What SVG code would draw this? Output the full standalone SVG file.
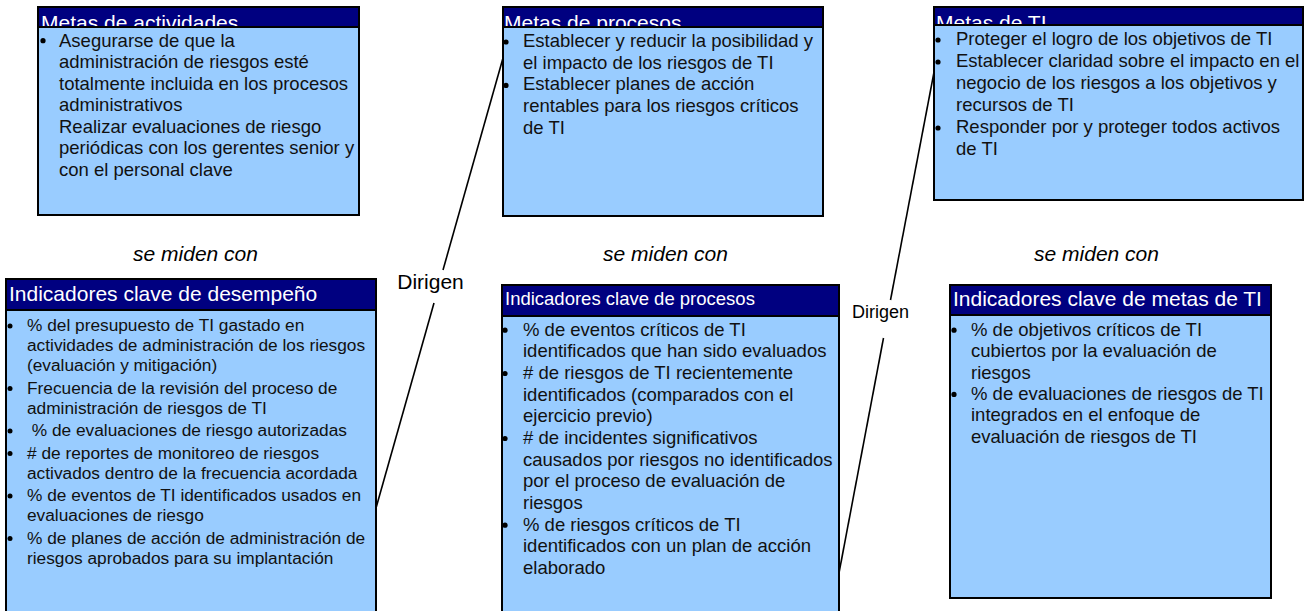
<svg xmlns="http://www.w3.org/2000/svg" width="1311" height="611" viewBox="0 0 1311 611">
<style>
.body{fill:#99CCFF;stroke:#000;stroke-width:2}
.head{fill:#000080;stroke:#000;stroke-width:2}
.ht{font-family:"Liberation Sans",Arial,sans-serif;fill:#fff;font-size:21px}
.t{font-family:"Liberation Sans",Arial,sans-serif;fill:#111;font-size:18.5px}
.t4{font-family:"Liberation Sans",Arial,sans-serif;fill:#111;font-size:17.3px}
.lbl{font-family:"Liberation Sans",Arial,sans-serif;fill:#000;font-size:21px;font-style:italic;text-anchor:middle}
.dl{font-family:"Liberation Sans",Arial,sans-serif;fill:#000;text-anchor:middle}
.b{fill:#000}
.c{stroke:#000;stroke-width:1.6;fill:none}
</style>
<defs>
<clipPath id="c1"><rect x="38" y="7" width="321" height="20"/></clipPath>
<clipPath id="c2"><rect x="503" y="7" width="320" height="20"/></clipPath>
<clipPath id="c3"><rect x="934" y="7" width="369" height="18"/></clipPath>
</defs>
<rect width="1311" height="611" fill="#fff"/>

<g id="connectors">
<line class="c" x1="503" y1="58" x2="443" y2="270"/>
<line class="c" x1="434" y1="303" x2="376" y2="508"/>
<line class="c" x1="935" y1="67" x2="890.5" y2="300"/>
<line class="c" x1="883.5" y1="338" x2="839" y2="573"/>
<text class="dl" x="430.5" y="289" font-size="21">Dirigen</text>
<text class="dl" x="880.5" y="318" font-size="18">Dirigen</text>
</g>

<g id="metas-actividades">
<rect class="head" x="38" y="7" width="321" height="20"/>
<text class="ht" x="41" y="29.5" clip-path="url(#c1)">Metas de actividades</text>
<rect class="body" x="38" y="27" width="321" height="188"/>
<circle class="b" cx="43" cy="40.7" r="2.6"/>
<text class="t" x="59" y="46.5">Asegurarse de que la</text>
<text class="t" x="59" y="68">administración de riesgos esté</text>
<text class="t" x="59" y="89.5">totalmente incluida en los procesos</text>
<text class="t" x="59" y="111">administrativos</text>
<text class="t" x="59" y="132.5">Realizar evaluaciones de riesgo</text>
<text class="t" x="59" y="154">periódicas con los gerentes senior y</text>
<text class="t" x="59" y="175.5">con el personal clave</text>
</g>

<g id="metas-procesos">
<rect class="head" x="503" y="7" width="320" height="20"/>
<text class="ht" x="504" y="29.5" clip-path="url(#c2)">Metas de procesos</text>
<rect class="body" x="503" y="27" width="320" height="189"/>
<circle class="b" cx="506" cy="42" r="2.6"/>
<text class="t" x="523" y="47">Establecer y reducir la posibilidad y</text>
<text class="t" x="523" y="68.7">el impacto de los riesgos de TI</text>
<circle class="b" cx="506" cy="85.4" r="2.6"/>
<text class="t" x="523" y="90.4">Establecer planes de acción</text>
<text class="t" x="523" y="112.1">rentables para los riesgos críticos</text>
<text class="t" x="523" y="133.8">de TI</text>
</g>

<g id="metas-ti">
<rect class="head" x="934" y="7" width="369" height="18"/>
<text class="ht" x="936" y="30" clip-path="url(#c3)">Metas de TI</text>
<rect class="body" x="934" y="25" width="369" height="175"/>
<circle class="b" cx="938" cy="40" r="2.6"/>
<text class="t" x="956" y="45">Proteger el logro de los objetivos de TI</text>
<circle class="b" cx="938" cy="62" r="2.6"/>
<text class="t" x="956" y="67">Establecer claridad sobre el impacto en el</text>
<text class="t" x="956" y="89">negocio de los riesgos a los objetivos y</text>
<text class="t" x="956" y="111">recursos de TI</text>
<circle class="b" cx="938" cy="128" r="2.6"/>
<text class="t" x="956" y="133">Responder por y proteger todos activos</text>
<text class="t" x="956" y="155">de TI</text>
</g>

<text class="lbl" x="195.5" y="261">se miden con</text>
<text class="lbl" x="665.5" y="261">se miden con</text>
<text class="lbl" x="1096.5" y="261">se miden con</text>

<g id="kpi-desempeno">
<rect class="body" x="6" y="310" width="370" height="310"/>
<rect class="head" x="6" y="279" width="370" height="31"/>
<text class="ht" x="9" y="301">Indicadores clave de desempeño</text>
<circle class="b" cx="10" cy="326" r="2.5"/>
<text class="t4" x="27" y="331">% del presupuesto de TI gastado en</text>
<text class="t4" x="27" y="351">actividades de administración de los riesgos</text>
<text class="t4" x="27" y="371">(evaluación y mitigación)</text>
<circle class="b" cx="10" cy="388.5" r="2.5"/>
<text class="t4" x="27" y="393.5">Frecuencia de la revisión del proceso de</text>
<text class="t4" x="27" y="413.5">administración de riesgos de TI</text>
<circle class="b" cx="10" cy="431" r="2.5"/>
<text class="t4" x="27" y="436" xml:space="preserve"> % de evaluaciones de riesgo autorizadas</text>
<circle class="b" cx="10" cy="453.5" r="2.5"/>
<text class="t4" x="27" y="458.5"># de reportes de monitoreo de riesgos</text>
<text class="t4" x="27" y="478.5">activados dentro de la frecuencia acordada</text>
<circle class="b" cx="10" cy="496" r="2.5"/>
<text class="t4" x="27" y="501">% de eventos de TI identificados usados en</text>
<text class="t4" x="27" y="521">evaluaciones de riesgo</text>
<circle class="b" cx="10" cy="538.5" r="2.5"/>
<text class="t4" x="27" y="543.5">% de planes de acción de administración de</text>
<text class="t4" x="27" y="563.5">riesgos aprobados para su implantación</text>
</g>

<g id="kpi-procesos">
<rect class="body" x="502" y="316" width="337" height="304"/>
<rect class="head" x="502" y="285" width="337" height="31"/>
<text class="ht" x="505" y="305" style="font-size:18.5px">Indicadores clave de procesos</text>
<circle class="b" cx="505" cy="330.2" r="2.6"/>
<text class="t" x="523" y="335.7">% de eventos críticos de TI</text>
<text class="t" x="523" y="357.4">identificados que han sido evaluados</text>
<circle class="b" cx="505" cy="373.5" r="2.6"/>
<text class="t" x="523" y="379"># de riesgos de TI recientemente</text>
<text class="t" x="523" y="400.7">identificados (comparados con el</text>
<text class="t" x="523" y="422.4">ejercicio previo)</text>
<circle class="b" cx="505" cy="438.5" r="2.6"/>
<text class="t" x="523" y="444"># de incidentes significativos</text>
<text class="t" x="523" y="465.7">causados por riesgos no identificados</text>
<text class="t" x="523" y="487.4">por el proceso de evaluación de</text>
<text class="t" x="523" y="509">riesgos</text>
<circle class="b" cx="505" cy="525.2" r="2.6"/>
<text class="t" x="523" y="530.7">% de riesgos críticos de TI</text>
<text class="t" x="523" y="552.4">identificados con un plan de acción</text>
<text class="t" x="523" y="574">elaborado</text>
</g>

<g id="kpi-metas-ti">
<rect class="body" x="950" y="315" width="321" height="283"/>
<rect class="head" x="950" y="285" width="321" height="30"/>
<text class="ht" x="953" y="306">Indicadores clave de metas de TI</text>
<circle class="b" cx="954" cy="330.2" r="2.6"/>
<text class="t" x="971" y="335.7">% de objetivos críticos de TI</text>
<text class="t" x="971" y="357.1">cubiertos por la evaluación de</text>
<text class="t" x="971" y="378.5">riesgos</text>
<circle class="b" cx="954" cy="394.4" r="2.6"/>
<text class="t" x="971" y="399.9">% de evaluaciones de riesgos de TI</text>
<text class="t" x="971" y="421.3">integrados en el enfoque de</text>
<text class="t" x="971" y="442.7">evaluación de riesgos de TI</text>
</g>
</svg>
